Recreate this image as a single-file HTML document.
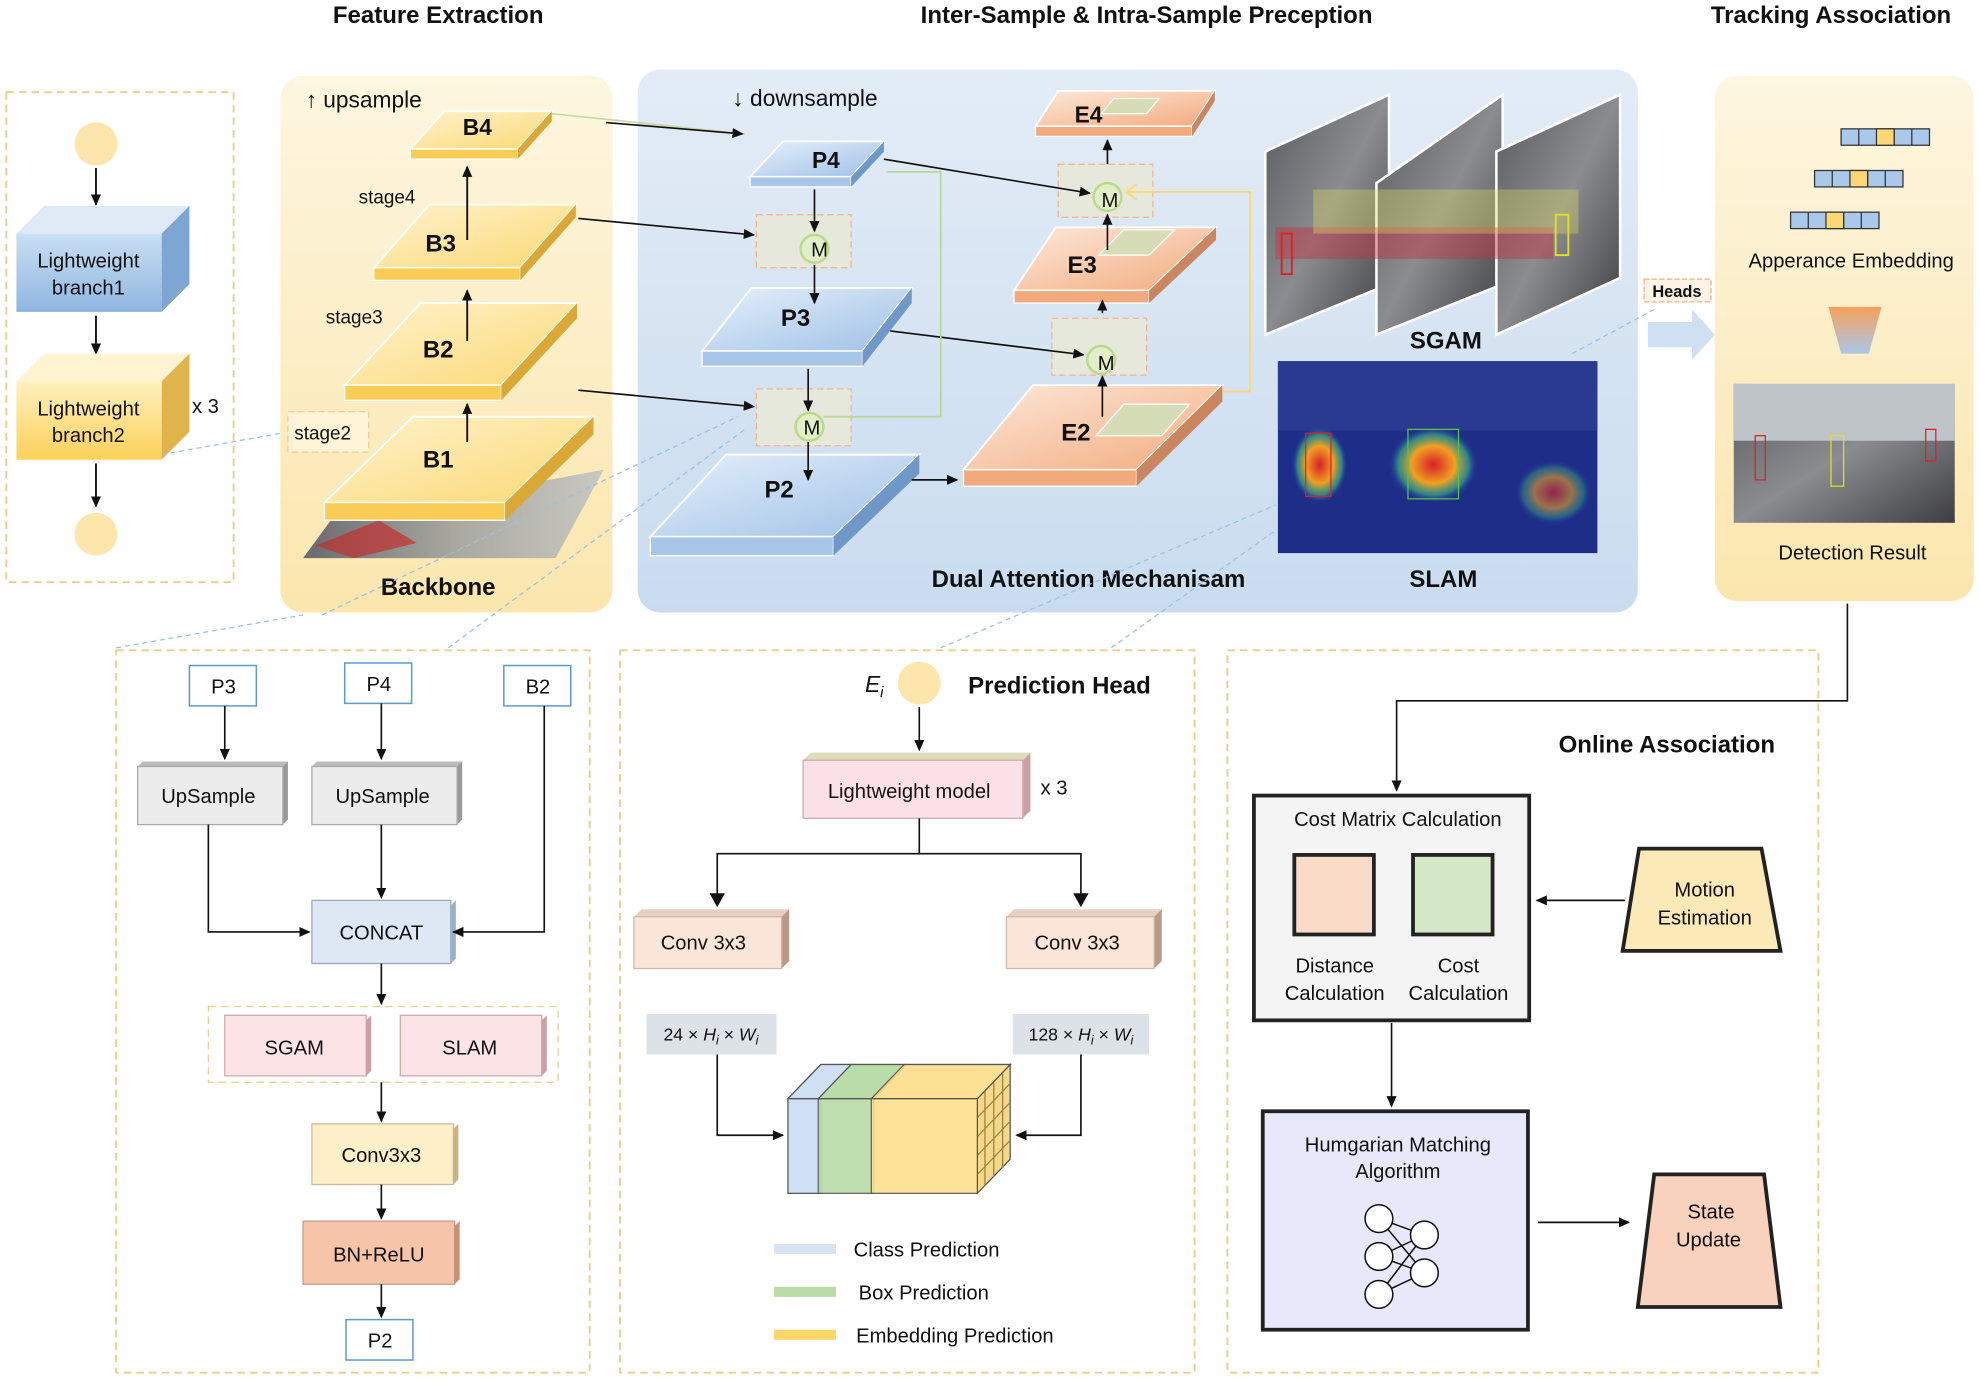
<!DOCTYPE html>
<html><head><meta charset="utf-8"><style>
html,body{margin:0;padding:0;background:#fff}
svg{display:block}
text{font-family:"Liberation Sans",Arial,sans-serif;fill:#111}
.b{font-weight:bold}
</style></head><body>
<svg width="1980" height="1379" viewBox="0 0 1568 1092" xmlns="http://www.w3.org/2000/svg">
<defs>
<marker id="ar" markerWidth="10" markerHeight="10" refX="8" refY="5" orient="auto" markerUnits="userSpaceOnUse"><path d="M0,1 L9,5 L0,9 z" fill="#111"/></marker>
<linearGradient id="yel" x1="0" y1="0" x2="0" y2="1"><stop offset="0" stop-color="#fdf6e0"/><stop offset="1" stop-color="#fbe6ad"/></linearGradient>
<linearGradient id="blu" x1="0" y1="0" x2="0" y2="1"><stop offset="0" stop-color="#e3ecf6"/><stop offset="1" stop-color="#c9dcef"/></linearGradient>
<linearGradient id="pY" x1="0" y1="0" x2="1" y2="1"><stop offset="0" stop-color="#fff3cf"/><stop offset="1" stop-color="#fbd873"/></linearGradient>
<linearGradient id="pB" x1="0" y1="0" x2="1" y2="1"><stop offset="0" stop-color="#e6f0fb"/><stop offset="1" stop-color="#9ec0e6"/></linearGradient>
<linearGradient id="pE" x1="0" y1="0" x2="1" y2="1"><stop offset="0" stop-color="#fde9dc"/><stop offset="1" stop-color="#f2aa7c"/></linearGradient>
<linearGradient id="lb1" x1="0" y1="0" x2="0" y2="1"><stop offset="0" stop-color="#c9dff3"/><stop offset="1" stop-color="#8fb6e0"/></linearGradient>
<linearGradient id="lb2" x1="0" y1="0" x2="0" y2="1"><stop offset="0" stop-color="#fff0bf"/><stop offset="1" stop-color="#fcd15a"/></linearGradient>
<linearGradient id="tri" x1="0" y1="0" x2="0" y2="1"><stop offset="0" stop-color="#f7a15c"/><stop offset="1" stop-color="#a9c6ea"/></linearGradient>
<linearGradient id="photo" x1="0" y1="0" x2="1" y2="1"><stop offset="0" stop-color="#5a5a5e"/><stop offset=".5" stop-color="#8a8c90"/><stop offset="1" stop-color="#3e3e42"/></linearGradient>
<linearGradient id="photo2" x1="0" y1="0" x2="1" y2="0"><stop offset="0" stop-color="#6a6a6e"/><stop offset=".5" stop-color="#a8a8a0"/><stop offset="1" stop-color="#c8c8c0"/></linearGradient>
<radialGradient id="heat"><stop offset="0" stop-color="#d8202a"/><stop offset=".5" stop-color="#f0a020"/><stop offset=".8" stop-color="#40c080" stop-opacity=".6"/><stop offset="1" stop-color="#2040c0" stop-opacity="0"/></radialGradient>
</defs>

<text x="347" y="18" font-size="19" class="b" text-anchor="middle">Feature Extraction</text>
<text x="908" y="18" font-size="19" class="b" text-anchor="middle">Inter-Sample &amp; Intra-Sample Preception</text>
<text x="1450" y="18" font-size="19" class="b" text-anchor="middle">Tracking Association</text>

<rect x="5" y="73" width="180" height="388" fill="none" stroke="#e8cf8a" stroke-width="1.5" stroke-dasharray="6,4"/>
<circle cx="76" cy="114" r="17" fill="#fde6ab"/>
<circle cx="76" cy="423" r="17" fill="#fde6ab"/>
<line x1="76" y1="133" x2="76" y2="162" stroke="#111" stroke-width="1.5" marker-end="url(#ar)"/>
<polygon points="13,185 35,163 150,163 128,185" fill="#dfeaf6"/>
<polygon points="128,185 150,163 150,225 128,247" fill="#7ea6d2"/>
<rect x="13" y="185" width="115" height="62" fill="url(#lb1)"/>
<text x="70" y="212" font-size="16" text-anchor="middle">Lightweight</text>
<text x="70" y="233" font-size="16" text-anchor="middle">branch1</text>
<line x1="76" y1="250" x2="76" y2="280" stroke="#111" stroke-width="1.5" marker-end="url(#ar)"/>
<polygon points="13,302 35,280 150,280 128,302" fill="#fff4d2"/>
<polygon points="128,302 150,280 150,342 128,364" fill="#e0b44a"/>
<rect x="13" y="302" width="115" height="62" fill="url(#lb2)"/>
<text x="70" y="329" font-size="16" text-anchor="middle">Lightweight</text>
<text x="70" y="350" font-size="16" text-anchor="middle">branch2</text>
<text x="152" y="327" font-size="16">x 3</text>
<line x1="76" y1="367" x2="76" y2="401" stroke="#111" stroke-width="1.5" marker-end="url(#ar)"/>
<line x1="128" y1="360" x2="228" y2="342" stroke="#9cc0e0" stroke-dasharray="4,3"/>

<rect x="222" y="60" width="263" height="425" rx="18" fill="url(#yel)"/>
<text x="242" y="85" font-size="18">↑ upsample</text>
<polygon points="240,442 262,412 478,372 440,442" fill="url(#photo2)"/>
<polygon points="250,432 300,412 330,430 280,442" fill="#c03030" opacity=".7"/>
<polygon points="257,398 327,330 470,330 400,398" fill="url(#pY)" stroke="#fff" stroke-width="1.5"/>
<rect x="257" y="398" width="143" height="14" fill="#f9cd55" stroke="#fff"/>
<polygon points="400,398 470,330 470,344 400,412" fill="#d9a837"/>
<text x="347" y="370" font-size="19" class="b" text-anchor="middle">B1</text>
<polygon points="273,305 333,240 457,240 397,305" fill="url(#pY)" stroke="#fff" stroke-width="1.5"/>
<rect x="273" y="305" width="124" height="12" fill="#f9cd55" stroke="#fff"/>
<polygon points="397,305 457,240 457,252 397,317" fill="#d9a837"/>
<text x="347" y="283" font-size="19" class="b" text-anchor="middle">B2</text>
<polygon points="296,212 340,162 456,162 412,212" fill="url(#pY)" stroke="#fff" stroke-width="1.5"/>
<rect x="296" y="212" width="116" height="10" fill="#f9cd55" stroke="#fff"/>
<polygon points="412,212 456,162 456,172 412,222" fill="#d9a837"/>
<text x="349" y="199" font-size="19" class="b" text-anchor="middle">B3</text>
<polygon points="325,118 352,88 437,88 410,118" fill="url(#pY)" stroke="#fff" stroke-width="1.5"/>
<rect x="325" y="118" width="85" height="8" fill="#f9cd55" stroke="#fff"/>
<polygon points="410,118 437,88 437,96 410,126" fill="#d9a837"/>
<text x="378" y="107" font-size="18" class="b" text-anchor="middle">B4</text>
<line x1="370" y1="350" x2="370" y2="320" stroke="#111" stroke-width="1.5" marker-end="url(#ar)"/>
<line x1="370" y1="270" x2="370" y2="230" stroke="#111" stroke-width="1.5" marker-end="url(#ar)"/>
<line x1="370" y1="190" x2="370" y2="132" stroke="#111" stroke-width="1.5" marker-end="url(#ar)"/>
<text x="284" y="161" font-size="15">stage4</text>
<text x="258" y="256" font-size="15">stage3</text>
<rect x="228" y="326" width="64" height="32" fill="#fdf3d6" stroke="#e8cf8a" stroke-dasharray="5,3"/>
<text x="233" y="348" font-size="15">stage2</text>
<text x="347" y="471" font-size="19" class="b" text-anchor="middle">Backbone</text>

<rect x="505" y="55" width="792" height="430" rx="18" fill="url(#blu)"/>
<text x="580" y="84" font-size="18">↓ downsample</text>
<polygon points="594,140 620,112 700,112 674,140" fill="url(#pB)" stroke="#fff" stroke-width="1.5"/>
<rect x="594" y="140" width="80" height="8" fill="#a8c6e8" stroke="#fff"/>
<polygon points="674,140 700,112 700,120 674,148" fill="#6f98c8"/>
<text x="654" y="133" font-size="18" class="b" text-anchor="middle">P4</text>
<polygon points="556,278 595,228 722,228 683,278" fill="url(#pB)" stroke="#fff" stroke-width="1.5"/>
<rect x="556" y="278" width="127" height="12" fill="#a8c6e8" stroke="#fff"/>
<polygon points="683,278 722,228 722,240 683,290" fill="#6f98c8"/>
<text x="630" y="258" font-size="19" class="b" text-anchor="middle">P3</text>
<polygon points="515,425 575,360 728,360 660,425" fill="url(#pB)" stroke="#fff" stroke-width="1.5"/>
<rect x="515" y="425" width="145" height="15" fill="#a8c6e8" stroke="#fff"/>
<polygon points="660,425 728,360 728,375 660,440" fill="#6f98c8"/>
<text x="617" y="394" font-size="19" class="b" text-anchor="middle">P2</text>
<polygon points="820,100 838,72 962,72 944,100" fill="url(#pE)" stroke="#fff" stroke-width="1.5"/>
<rect x="820" y="100" width="124" height="8" fill="#f0aa7e" stroke="#fff"/>
<polygon points="944,100 962,72 962,80 944,108" fill="#c98660"/>
<polygon points="872,90 882,78 918,78 908,90" fill="#d6dcb6" stroke="#fff"/>
<text x="862" y="97" font-size="18" class="b" text-anchor="middle">E4</text>
<polygon points="803,230 836,180 963,180 910,230" fill="url(#pE)" stroke="#fff" stroke-width="1.5"/>
<rect x="803" y="230" width="107" height="10" fill="#f0aa7e" stroke="#fff"/>
<polygon points="910,230 963,180 963,190 910,240" fill="#c98660"/>
<polygon points="870,202 890,182 930,182 910,202" fill="#d6dcb6" stroke="#fff"/>
<text x="857" y="216" font-size="19" class="b" text-anchor="middle">E3</text>
<polygon points="763,372 818,305 968,305 900,372" fill="url(#pE)" stroke="#fff" stroke-width="1.5"/>
<rect x="763" y="372" width="137" height="13" fill="#f0aa7e" stroke="#fff"/>
<polygon points="900,372 968,305 968,318 900,385" fill="#c98660"/>
<polygon points="868,345 890,320 942,320 920,345" fill="#d6dcb6" stroke="#fff"/>
<text x="852" y="349" font-size="19" class="b" text-anchor="middle">E2</text>
<g>
<rect x="599" y="170" width="75" height="42" fill="#e6e8dc" stroke="#f3b28a" stroke-dasharray="5,3"/>
<circle cx="645" cy="197" r="11" fill="#e2eec8" stroke="#bcd88c" stroke-width="2"/><text x="649" y="203" font-size="16" text-anchor="middle">M</text>
<rect x="599" y="308" width="75" height="45" fill="#e6e8dc" stroke="#f3b28a" stroke-dasharray="5,3"/>
<circle cx="641" cy="338" r="11" fill="#e2eec8" stroke="#bcd88c" stroke-width="2"/><text x="643" y="344" font-size="16" text-anchor="middle">M</text>
<rect x="833" y="252" width="75" height="45" fill="#e6e8dc" stroke="#f3b28a" stroke-dasharray="5,3"/>
<circle cx="872" cy="285" r="11" fill="#e2eec8" stroke="#bcd88c" stroke-width="2"/><text x="876" y="293" font-size="16" text-anchor="middle">M</text>
<rect x="838" y="130" width="75" height="42" fill="#e6e8dc" stroke="#f3b28a" stroke-dasharray="5,3"/>
<circle cx="877" cy="156" r="11" fill="#e2eec8" stroke="#bcd88c" stroke-width="2"/><text x="879" y="164" font-size="16" text-anchor="middle">M</text>
</g>
<g stroke="#111" stroke-width="1.3" fill="none">
<line x1="437" y1="90" x2="590" y2="106" stroke="#c8d8a0"/>
<line x1="480" y1="97" x2="588" y2="106" marker-end="url(#ar)"/>
<line x1="458" y1="173" x2="597" y2="186" marker-end="url(#ar)"/>
<line x1="458" y1="309" x2="597" y2="322" marker-end="url(#ar)"/>
<line x1="645" y1="150" x2="645" y2="183" marker-end="url(#ar)"/>
<line x1="645" y1="210" x2="645" y2="240" marker-end="url(#ar)"/>
<line x1="640" y1="292" x2="640" y2="325" marker-end="url(#ar)"/>
<line x1="640" y1="350" x2="640" y2="380" marker-end="url(#ar)"/>
<line x1="700" y1="126" x2="863" y2="153" marker-end="url(#ar)"/>
<line x1="705" y1="262" x2="858" y2="281" marker-end="url(#ar)"/>
<line x1="722" y1="380" x2="758" y2="380" marker-end="url(#ar)"/>
<line x1="873" y1="330" x2="873" y2="298" marker-end="url(#ar)"/>
<line x1="873" y1="248" x2="873" y2="238" marker-end="url(#ar)"/>
<line x1="877" y1="198" x2="877" y2="170" marker-end="url(#ar)"/>
<line x1="877" y1="130" x2="877" y2="111" marker-end="url(#ar)"/>
</g>
<polyline points="652,330 745,330 745,136 702,136" fill="none" stroke="#b6d890" stroke-width="1.3"/>
<polyline points="968,310 990,310 990,152 892,152" fill="none" stroke="#fbd870" stroke-width="1.5"/>
<path d="M900,146 L892,152 L900,158" fill="none" stroke="#fbd870" stroke-width="1.5"/>
<g>
<polygon points="1002,120 1100,75 1100,225 1002,265" fill="url(#photo)" stroke="#fff" stroke-width="2"/>
<polygon points="1090,145 1190,75 1190,225 1090,265" fill="url(#photo)" stroke="#fff" stroke-width="2"/>
<polygon points="1185,120 1283,75 1283,220 1185,265" fill="url(#photo)" stroke="#fff" stroke-width="2"/>
<rect x="1010" y="180" width="220" height="25" fill="#c83040" opacity=".45"/>
<rect x="1040" y="150" width="210" height="35" fill="#e0e060" opacity=".35"/>
<rect x="1015" y="185" width="8" height="32" fill="none" stroke="#e02020" stroke-width="1.5"/>
<rect x="1232" y="170" width="10" height="32" fill="none" stroke="#e0e020" stroke-width="1.5"/>
</g>
<text x="1145" y="276" font-size="19" class="b" text-anchor="middle">SGAM</text>
<rect x="1012" y="286" width="253" height="152" fill="#1e2e88"/>
<rect x="1012" y="286" width="253" height="55" fill="#2a3a90"/>
<ellipse cx="1045" cy="368" rx="22" ry="30" fill="url(#heat)"/>
<ellipse cx="1135" cy="368" rx="35" ry="30" fill="url(#heat)"/>
<ellipse cx="1230" cy="390" rx="30" ry="25" fill="url(#heat)" opacity=".6"/>
<rect x="1034" y="343" width="20" height="50" fill="none" stroke="#e02020"/>
<rect x="1115" y="340" width="40" height="55" fill="none" stroke="#60c040"/>
<text x="1143" y="465" font-size="19" class="b" text-anchor="middle">SLAM</text>
<text x="862" y="465" font-size="19" class="b" text-anchor="middle">Dual Attention Mechanisam</text>

<rect x="1302" y="221" width="53" height="18" fill="#fdf3e6" stroke="#f0b080" stroke-dasharray="4,2"/>
<text x="1328" y="235" font-size="13" class="b" text-anchor="middle">Heads</text>
<polygon points="1305,255 1340,255 1340,245 1358,265 1340,285 1340,275 1305,275" fill="#cfe0f2"/>

<rect x="1358" y="60" width="205" height="416" rx="18" fill="url(#yel)"/>
<g stroke="#333" stroke-width="1">
<rect x="1458" y="102" width="70" height="13" fill="#a9c8ea"/>
<rect x="1437" y="135" width="70" height="13" fill="#a9c8ea"/>
<rect x="1418" y="168" width="70" height="13" fill="#a9c8ea"/>
<rect x="1486" y="102" width="14" height="13" fill="#fbd873"/>
<rect x="1465" y="135" width="14" height="13" fill="#fbd873"/>
<rect x="1446" y="168" width="14" height="13" fill="#fbd873"/>
<path d="M1472,102v13M1500,102v13M1514,102v13M1451,135v13M1479,135v13M1493,135v13M1432,168v13M1460,168v13M1474,168v13" fill="none"/>
</g>
<text x="1466" y="212" font-size="16" text-anchor="middle">Apperance Embedding</text>
<polygon points="1448,243 1490,243 1480,280 1458,280" fill="url(#tri)"/>
<rect x="1373" y="304" width="175" height="110" fill="url(#photo)"/>
<rect x="1373" y="304" width="175" height="45" fill="#bfc4c8"/>
<rect x="1390" y="345" width="8" height="35" fill="none" stroke="#e02020"/>
<rect x="1450" y="345" width="10" height="40" fill="none" stroke="#e0e020"/>
<rect x="1525" y="340" width="8" height="25" fill="none" stroke="#e02020"/>
<text x="1467" y="443" font-size="16" text-anchor="middle">Detection Result</text>

<g stroke="#9cc0e0" stroke-dasharray="4,3" fill="none">
<line x1="255" y1="487" x2="584" y2="330"/>
<line x1="355" y1="513" x2="590" y2="340"/>
<line x1="92" y1="513" x2="240" y2="487"/>
<line x1="745" y1="513" x2="1010" y2="400"/>
<line x1="880" y1="513" x2="1010" y2="420"/>
<line x1="1245" y1="280" x2="1310" y2="245"/>
</g>

<rect x="92" y="515" width="375" height="572" fill="none" stroke="#e8cf8a" stroke-width="1.5" stroke-dasharray="6,4"/>
<g stroke="#5b9bd5" stroke-width="1.2" fill="#fff">
<rect x="150" y="527" width="53" height="32"/><rect x="273" y="525" width="53" height="32"/><rect x="399" y="527" width="53" height="32"/><rect x="274" y="1045" width="53" height="32"/>
</g>
<text x="177" y="549" font-size="16" text-anchor="middle">P3</text>
<text x="300" y="547" font-size="16" text-anchor="middle">P4</text>
<text x="426" y="549" font-size="16" text-anchor="middle">B2</text>
<text x="301" y="1067" font-size="16" text-anchor="middle">P2</text>
<g>
<polygon points="109,607 113,603 228,603 224,607" fill="#bbb"/><polygon points="224,607 228,603 228,649 224,653" fill="#999"/>
<rect x="109" y="607" width="115" height="46" fill="#ececec" stroke="#aaa"/>
<polygon points="247,607 251,603 366,603 362,607" fill="#bbb"/><polygon points="362,607 366,603 366,649 362,653" fill="#999"/>
<rect x="247" y="607" width="115" height="46" fill="#ececec" stroke="#aaa"/>
<rect x="247" y="713" width="110" height="50" fill="#dde8f4" stroke="#9ab"/>
<polygon points="357,717 361,713 361,759 357,763" fill="#9ab0c8"/>
<rect x="165" y="797" width="277" height="60" fill="none" stroke="#e8cf8a" stroke-dasharray="6,4"/>
<rect x="178" y="804" width="112" height="48" fill="#fbe3e6" stroke="#caa"/>
<polygon points="290,808 294,804 294,848 290,852" fill="#c9a0a8"/>
<rect x="317" y="804" width="112" height="48" fill="#fbe3e6" stroke="#caa"/>
<polygon points="429,808 433,804 433,848 429,852" fill="#c9a0a8"/>
<rect x="247" y="890" width="112" height="48" fill="#fdf0c8" stroke="#cb9"/>
<polygon points="359,894 363,890 363,934 359,938" fill="#c8b480"/>
<rect x="240" y="967" width="120" height="50" fill="#f6c4a8" stroke="#c98"/>
<polygon points="360,971 364,967 364,1013 360,1017" fill="#c8906c"/>
</g>
<text x="165" y="636" font-size="16" text-anchor="middle">UpSample</text>
<text x="303" y="636" font-size="16" text-anchor="middle">UpSample</text>
<text x="302" y="744" font-size="16" text-anchor="middle">CONCAT</text>
<text x="233" y="835" font-size="16" text-anchor="middle">SGAM</text>
<text x="372" y="835" font-size="16" text-anchor="middle">SLAM</text>
<text x="302" y="920" font-size="16" text-anchor="middle">Conv3x3</text>
<text x="300" y="999" font-size="16" text-anchor="middle">BN+ReLU</text>
<g stroke="#111" stroke-width="1.3" fill="none">
<line x1="178" y1="559" x2="178" y2="601" marker-end="url(#ar)"/>
<line x1="302" y1="557" x2="302" y2="601" marker-end="url(#ar)"/>
<line x1="302" y1="653" x2="302" y2="711" marker-end="url(#ar)"/>
<polyline points="165,653 165,738 245,738" marker-end="url(#ar)"/>
<polyline points="431,559 431,738 359,738" marker-end="url(#ar)"/>
<line x1="302" y1="763" x2="302" y2="795" marker-end="url(#ar)"/>
<line x1="302" y1="857" x2="302" y2="888" marker-end="url(#ar)"/>
<line x1="302" y1="938" x2="302" y2="965" marker-end="url(#ar)"/>
<line x1="302" y1="1017" x2="302" y2="1043" marker-end="url(#ar)"/>
</g>

<rect x="491" y="515" width="455" height="572" fill="none" stroke="#e8cf8a" stroke-width="1.5" stroke-dasharray="6,4"/>
<text x="685" y="548" font-size="18" font-style="italic" font-family="Liberation Serif">E<tspan font-size="12" dy="4">i</tspan></text>
<circle cx="728" cy="541" r="17" fill="#fde6ab"/>
<text x="839" y="549" font-size="19" class="b" text-anchor="middle">Prediction Head</text>
<polygon points="636,602 642,596 816,596 810,602" fill="#ddb"/>
<polygon points="810,602 816,596 816,642 810,648" fill="#c9a0a8"/>
<rect x="636" y="602" width="174" height="46" fill="#fbe0e6" stroke="#caa"/>
<text x="720" y="632" font-size="16" text-anchor="middle">Lightweight model</text>
<text x="824" y="629" font-size="16">x 3</text>
<g stroke="#111" stroke-width="1.3" fill="none">
<line x1="728" y1="560" x2="728" y2="594" marker-end="url(#ar)"/>
<line x1="728" y1="648" x2="728" y2="676"/>
<polyline points="568,716 568,676 856,676 856,716"/>
<path d="M563,708 L568,717 L573,708 z M851,708 L856,717 L861,708 z" fill="#111"/>
<polyline points="568,835 568,899 620,899" marker-end="url(#ar)"/>
<polyline points="856,835 856,899 805,899" marker-end="url(#ar)"/>
</g>
<polygon points="502,726 508,720 625,720 619,726" fill="#e8d0c0"/>
<polygon points="619,726 625,720 625,761 619,767" fill="#b89a88"/>
<rect x="502" y="726" width="117" height="41" fill="#fbe5d8" stroke="#cba"/>
<text x="557" y="752" font-size="16" text-anchor="middle">Conv 3x3</text>
<polygon points="797,726 803,720 920,720 914,726" fill="#e8d0c0"/>
<polygon points="914,726 920,720 920,761 914,767" fill="#b89a88"/>
<rect x="797" y="726" width="117" height="41" fill="#fbe5d8" stroke="#cba"/>
<text x="853" y="752" font-size="16" text-anchor="middle">Conv 3x3</text>
<rect x="512" y="803" width="103" height="32" fill="#dde1e8"/>
<text x="563" y="824" font-size="14" font-family="Liberation Serif" text-anchor="middle">24 × <tspan font-style="italic">H<tspan font-size="10" dy="3">i</tspan></tspan><tspan dy="-3"> × </tspan><tspan font-style="italic">W<tspan font-size="10" dy="3">i</tspan></tspan></text>
<rect x="802" y="803" width="108" height="32" fill="#dde1e8"/>
<text x="856" y="824" font-size="14" font-family="Liberation Serif" text-anchor="middle">128 × <tspan font-style="italic">H<tspan font-size="10" dy="3">i</tspan></tspan><tspan dy="-3"> × </tspan><tspan font-style="italic">W<tspan font-size="10" dy="3">i</tspan></tspan></text>
<g stroke="#555" stroke-width="1">
<polygon points="624,870 650,843 800,843 774,870" fill="#f5f0e0"/>
<polygon points="774,870 800,843 800,918 774,945" fill="#f4d98a"/>
<path d="M780,864v75M787,857v75M794,850v75M774,885l26,-27M774,900l26,-27M774,915l26,-27M774,930l26,-27" fill="none" stroke="#a08040"/>
<rect x="624" y="870" width="26" height="75" fill="#cfe0f4"/>
<polygon points="624,870 650,843 676,843 650,870" fill="#cfe0f4"/>
<rect x="648" y="870" width="44" height="75" fill="#b9dca8" opacity=".9"/>
<polygon points="648,870 674,843 718,843 692,870" fill="#b9dca8"/>
<rect x="690" y="870" width="84" height="75" fill="#fde08c" opacity=".9"/>
<polygon points="690,870 716,843 800,843 774,870" fill="#fde08c" opacity=".9"/>
</g>
<rect x="613" y="985" width="49" height="8" fill="#d6e4f4"/>
<rect x="613" y="1019" width="49" height="8" fill="#b9dca8"/>
<rect x="613" y="1053" width="49" height="8" fill="#fbd66a"/>
<text x="676" y="995" font-size="16">Class Prediction</text>
<text x="680" y="1029" font-size="16">Box Prediction</text>
<text x="678" y="1063" font-size="16">Embedding Prediction</text>

<rect x="972" y="515" width="468" height="572" fill="none" stroke="#e8cf8a" stroke-width="1.5" stroke-dasharray="6,4"/>
<text x="1320" y="596" font-size="19" class="b" text-anchor="middle">Online Association</text>
<polyline points="1463,478 1463,555 1106,555 1106,626" fill="none" stroke="#111" stroke-width="1.3" marker-end="url(#ar)"/>
<rect x="993" y="630" width="218" height="178" fill="#f4f4f4" stroke="#222" stroke-width="3"/>
<text x="1107" y="654" font-size="16" text-anchor="middle">Cost Matrix Calculation</text>
<rect x="1025" y="677" width="63" height="63" fill="#f8dcc8" stroke="#222" stroke-width="3"/>
<rect x="1119" y="677" width="63" height="63" fill="#d4e8c8" stroke="#222" stroke-width="3"/>
<text x="1057" y="770" font-size="16" text-anchor="middle">Distance</text>
<text x="1057" y="792" font-size="16" text-anchor="middle">Calculation</text>
<text x="1155" y="770" font-size="16" text-anchor="middle">Cost</text>
<text x="1155" y="792" font-size="16" text-anchor="middle">Calculation</text>
<polygon points="1298,672 1395,672 1410,753 1285,753" fill="#fbeab8" stroke="#222" stroke-width="3"/>
<text x="1350" y="710" font-size="16" text-anchor="middle">Motion</text>
<text x="1350" y="732" font-size="16" text-anchor="middle">Estimation</text>
<line x1="1287" y1="713" x2="1217" y2="713" stroke="#111" stroke-width="1.3" marker-end="url(#ar)"/>
<line x1="1102" y1="810" x2="1102" y2="876" stroke="#111" stroke-width="1.3" marker-end="url(#ar)"/>
<rect x="1000" y="880" width="210" height="173" fill="#e8e8fb" stroke="#222" stroke-width="3"/>
<text x="1107" y="912" font-size="16" text-anchor="middle">Humgarian Matching</text>
<text x="1107" y="933" font-size="16" text-anchor="middle">Algorithm</text>
<g stroke="#111" stroke-width="1.2" fill="#fff">
<path d="M1092,965 L1128,978 M1092,965 L1128,1008 M1092,995 L1128,978 M1092,995 L1128,1008 M1092,1025 L1128,1008 M1092,1025 L1128,978" fill="none"/>
<circle cx="1092" cy="965" r="11"/><circle cx="1092" cy="995" r="11"/><circle cx="1092" cy="1025" r="11"/>
<circle cx="1128" cy="978" r="11"/><circle cx="1128" cy="1008" r="11"/>
</g>
<line x1="1218" y1="968" x2="1290" y2="968" stroke="#111" stroke-width="1.3" marker-end="url(#ar)"/>
<polygon points="1310,930 1397,930 1410,1035 1297,1035" fill="#f8d2bc" stroke="#222" stroke-width="3"/>
<text x="1355" y="965" font-size="16" text-anchor="middle">State</text>
<text x="1353" y="987" font-size="16" text-anchor="middle">Update</text>
</svg>
</body></html>
